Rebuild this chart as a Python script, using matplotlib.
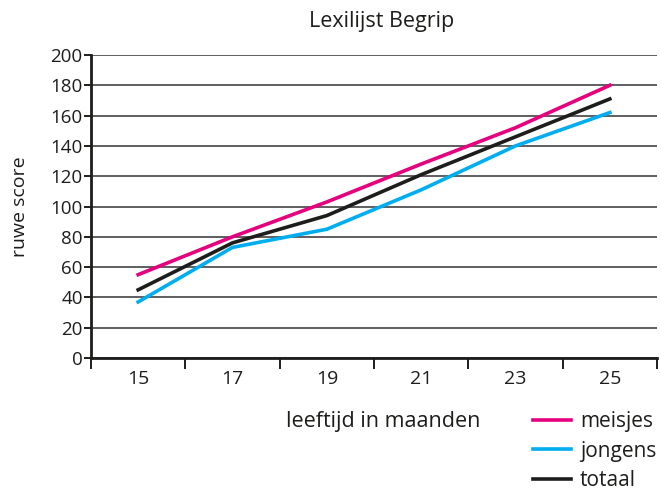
import matplotlib.pyplot as plt
import numpy as np

# Data
maanden = ['15', '17', '19', '21', '23', '25']
meisjes = [55, 80, 103, 128, 152, 180]
jongens = [37, 73, 85, 111, 140, 162]
totaal = [45, 76, 94, 121, 146, 171]

plt.rcParams['font.family'] = ['Open Sans', 'DejaVu Sans']
tekst = '#1d1d1b'

fig = plt.figure(figsize=(6.61, 4.9), dpi=100)
ax = fig.add_axes([91/661, 1 - 358/490, 566/661, 303/490])

x = np.arange(len(maanden))
ax.plot(x, meisjes, color='#e5007d', linewidth=2.6, label='meisjes', zorder=3)
ax.plot(x, jongens, color='#00aeef', linewidth=2.6, label='jongens', zorder=3)
ax.plot(x, totaal, color=tekst, linewidth=2.6, label='totaal', zorder=3)

ax.set_xlim(-0.5, len(maanden) - 0.5)
ax.set_ylim(0, 200)
ax.set_yticks(range(0, 201, 20))
ax.yaxis.grid(True, color='#333333', linewidth=1.1)
ax.set_axisbelow(True)

# streepjes op de grenzen, labels in het midden
ax.set_xticks(np.arange(-0.5, len(maanden)), labels=[''] * (len(maanden) + 1))
ax.set_xticks(x, labels=maanden, minor=True)
ax.tick_params(axis='x', which='major', length=8, width=1.4, direction='out', color=tekst)
ax.tick_params(axis='x', which='minor', length=0, pad=9, labelsize=14, labelcolor=tekst)
ax.tick_params(axis='y', length=5, width=1.4, labelsize=13.5, labelcolor=tekst, pad=1, color=tekst)

for s in ['top', 'right']:
    ax.spines[s].set_visible(False)
for s in ['left', 'bottom']:
    ax.spines[s].set_linewidth(2)
    ax.spines[s].set_color(tekst)

ax.set_ylabel('ruwe score', fontsize=14, color=tekst)
ax.yaxis.set_label_coords((29 - 91) / 566, 0.5)
fig.text(383/661, 1 - 421/490, 'leeftijd in maanden', fontsize=15.5, color=tekst,
         ha='center', va='center')
fig.text(382/661, 1 - 22/490, 'Lexilijst Begrip', fontsize=15.5, color=tekst,
         ha='center', va='center')

leg = fig.legend(loc='upper left', bbox_to_anchor=(533/661, 1 - 411/490), frameon=False,
                 fontsize=15, handlelength=1.8, handletextpad=0.45, labelspacing=0.42,
                 borderaxespad=0, borderpad=0)
for t in leg.get_texts():
    t.set_color(tekst)

fig.savefig('out.png', dpi=100)
